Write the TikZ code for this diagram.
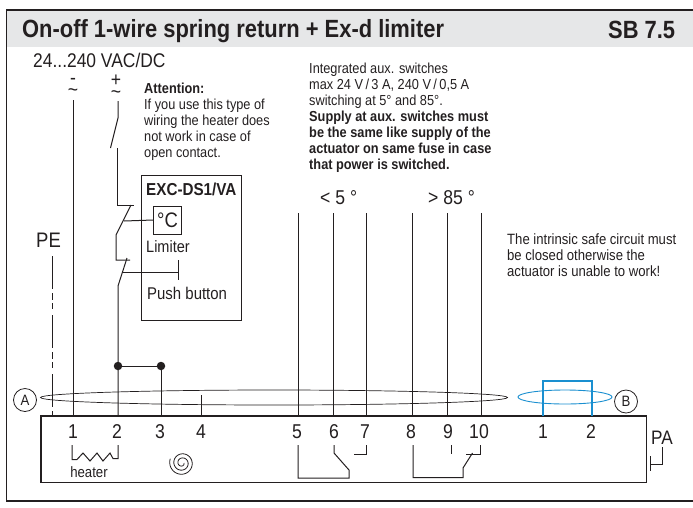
\documentclass[tikz,border=0pt]{standalone}
\usepackage{fontspec}
\setmainfont[FakeStretch=0.88]{Liberation Sans}
\usepackage{tikz}
\usetikzlibrary{calc}
\definecolor{inkdark}{HTML}{231F20}
\definecolor{bandgrey}{HTML}{E6E7E8}
\definecolor{loopblue}{HTML}{1A8FD0}
\tikzset{
  wire/.style={draw=inkdark,line width=1pt},
  thinwire/.style={draw=inkdark,line width=0.7pt},
  bluewire/.style={draw=loopblue,line width=1.4pt},
  frameline/.style={draw=inkdark,line width=1.1pt},
  lbl/.style={inner sep=0pt,text=inkdark,anchor=base west},
  num/.style={inner sep=0pt,text=inkdark,anchor=base,font=\fontsize{20}{20}\selectfont},
  polarity/.style={inner sep=0pt,text=inkdark,align=center,font=\fontsize{20}{12}\selectfont},
  para/.style={inner sep=0pt,text=inkdark,anchor=north west,align=left,font=\fontsize{14.5}{16}\selectfont},
  badge/.style={circle,draw=inkdark,line width=0.8pt,minimum size=23pt,inner sep=0pt,text=inkdark,font=\fontsize{15}{15}\selectfont},
  dot/.style={circle,fill=inkdark,minimum size=8.5pt,inner sep=0pt},
}
\begin{document}
\begin{tikzpicture}[x=1pt,y=-1pt]
  \useasboundingbox (0,0) rectangle (693,507);
  % outer frame and title band
  \fill[bandgrey] (6.5,10) rectangle (693,46.5);
  \draw[frameline] (693,10) -- (6.5,10) -- (6.5,501) -- (693,501);
  \node[lbl,font=\bfseries\fontsize{24.9}{24.9}\selectfont] (title) at (22,37) {On-off 1-wire spring return + Ex-d limiter};
  \node[lbl,font=\bfseries\fontsize{24.9}{24.9}\selectfont] (code) at (608,38) {SB 7.5};
  % supply
  \node[lbl,font=\fontsize{19.8}{19.8}\selectfont] (supply) at (33,67) {24...240 VAC/DC};
  \node[polarity] (minus) at (73,87) {-\\\char`\~};
  \node[polarity] (plus) at (116,87) {+\\\char`\~};
  \node[para] (attn) at (144,83) {\textbf{Attention:}\\If you use this type of\\wiring the heater does\\not work in case of\\open contact.};
  \node[para] (aux) at (309,63) {Integrated aux. switches\\max 24 V\,/\,3 A, 240 V\,/\,0,5 A\\switching at 5° and 85°.\\\textbf{Supply at aux. switches must}\\\textbf{be the same like supply of the}\\\textbf{actuator on same fuse in case}\\\textbf{that power is switched.}};
  \node[lbl,font=\fontsize{20}{20}\selectfont] (low) at (320,204) {< 5 °};
  \node[lbl,font=\fontsize{20}{20}\selectfont] (high) at (428,204) {> 85 °};
  \node[para,font=\fontsize{14.9}{16}\selectfont] (safe) at (507,233) {The intrinsic safe circuit must\\be closed otherwise the\\actuator is unable to work!};
  \node[lbl,font=\fontsize{21}{21}\selectfont] (pe) at (36,247) {PE};
  % terminal block
  \node[draw=inkdark,line width=1.1pt,inner sep=0pt,minimum width=605.5pt,minimum height=66.5pt] (block) at (343.75,449.25) {};
  \foreach \name/\px/\lx/\txt in {t1/73/73/1,t2/118/117/2,t3/161/160/3,t4/201.5/201/4,t5/298.5/297/5,t6/333/334/6,t7/366.7/365/7,t8/412.7/411/8,t9/447.7/448/9,t10/481/479/10}{
    \coordinate (\name) at (\px,416);
    \node[num] (n\name) at (\lx,438.5) {\txt};
  }
  \node[num] (ni1) at (543,438.5) {1};
  \node[num] (ni2) at (591,438.5) {2};
  \coordinate (i1) at (543,416);
  \coordinate (i2) at (592,416);
  % field wires
  \draw[wire,dash pattern=on 33pt off 4pt on 7pt off 3pt on 6pt off 6pt] (52,256) coordinate (petop) -- (52,416);
  \draw[wire] (t1) -- (73,100);
  \foreach \name/\px in {t5/298.5,t6/333,t7/366.7,t8/412.7,t9/447.7,t10/481}{
    \draw[wire] (\name) -- (\px,213);
  }
  \draw[wire] (t4) -- ++(0,-21);
  % limiter box
  \node[draw=inkdark,line width=1.1pt,inner sep=0pt,minimum width=100pt,minimum height=144.5pt] (exc) at (191.5,248) {};
  \node[lbl,font=\bfseries\fontsize{17.3}{17.3}\selectfont] (exclabel) at (146,195) {EXC-DS1/VA};
  \node[draw=inkdark,line width=1pt,minimum width=27.5pt,minimum height=28pt,inner sep=0pt,text=inkdark,font=\fontsize{21}{21}\selectfont] (degc) at (167.5,220) {°C};
  \node[lbl,font=\fontsize{16.5}{16.5}\selectfont] (limiter) at (146,252) {Limiter};
  \node[lbl,font=\fontsize{17}{17}\selectfont] (push) at (147,299) {Push button};
  % supply wire with contacts
  \draw[wire] (118,101) -- (118,118) -- (110.5,148);
  \draw[wire] (117,148) -- (117,205) -- (134,205);
  \draw[wire] (131,205) -- (116,235) -- (116,260) -- (130,260);
  \draw[wire] (127,258) -- (118,286) -- (t2);
  \draw[wire] (124,221) -- (degc.west);
  \coordinate (pushbar) at (178,272);
  \draw[wire] (122,272) -- (pushbar);
  \draw[wire] (178,260) -- (178,280);
  % bridge 2 to 3
  \node[dot] (d2) at (118,366) {};
  \node[dot] (d3) at (161,366) {};
  \draw[wire] (d2) -- (d3);
  \draw[wire] (d3) -- (t3);
  % cable loops
  \draw[thinwire] (274,397.5) ellipse (233.5 and 7.5);
  \draw[draw=loopblue,line width=0.9pt] (565,397) ellipse (47 and 7);
  \draw[bluewire] (i1) -- (543,381) -- (592,381) -- (i2);
  \node[badge] (markA) at (25,400) {A};
  \node[badge] (markB) at (626,401.5) {B};
  % heater
  \draw[wire] (72,445) -- (72,459.5) -- (77,459.5) -- (83,453) -- (90,461) -- (97,453) -- (103,461) -- (110,453) -- (113,458.5) -- (118,458.5) -- (118,445);
  \node[num,font=\fontsize{15}{15}\selectfont] (heater) at (89,477.5) {heater};
  % spring
  \draw[wire,line width=0.8pt] plot[domain=0:920,samples=90,smooth] ({182+(2+10.5*\x/920)*cos(\x)},{463+(2+10.5*\x/920)*sin(\x)});
  % aux contacts
  \draw[wire] (298,445) -- (298,478) -- (349,478) -- (349,470) -- (334,453) -- (334,445);
  \draw[wire] (366,445) -- (366,454.5) -- (354,454.5);
  \draw[wire] (413,445) -- (413,477.5) -- (463,477.5) -- (463,468) -- (472.5,453);
  \draw[wire] (480,445) -- (480,454.5) -- (466,454.5);
  \draw[wire] (451,445) -- (451,454);
  % potential equalisation
  \node[lbl,font=\fontsize{19.5}{19.5}\selectfont] (pa) at (651,444) {PA};
  \draw[wire] (650,456) -- (650,471);
  \draw[wire] (650,464) -- (662.5,464) -- (662.5,447);
\end{tikzpicture}
\end{document}
